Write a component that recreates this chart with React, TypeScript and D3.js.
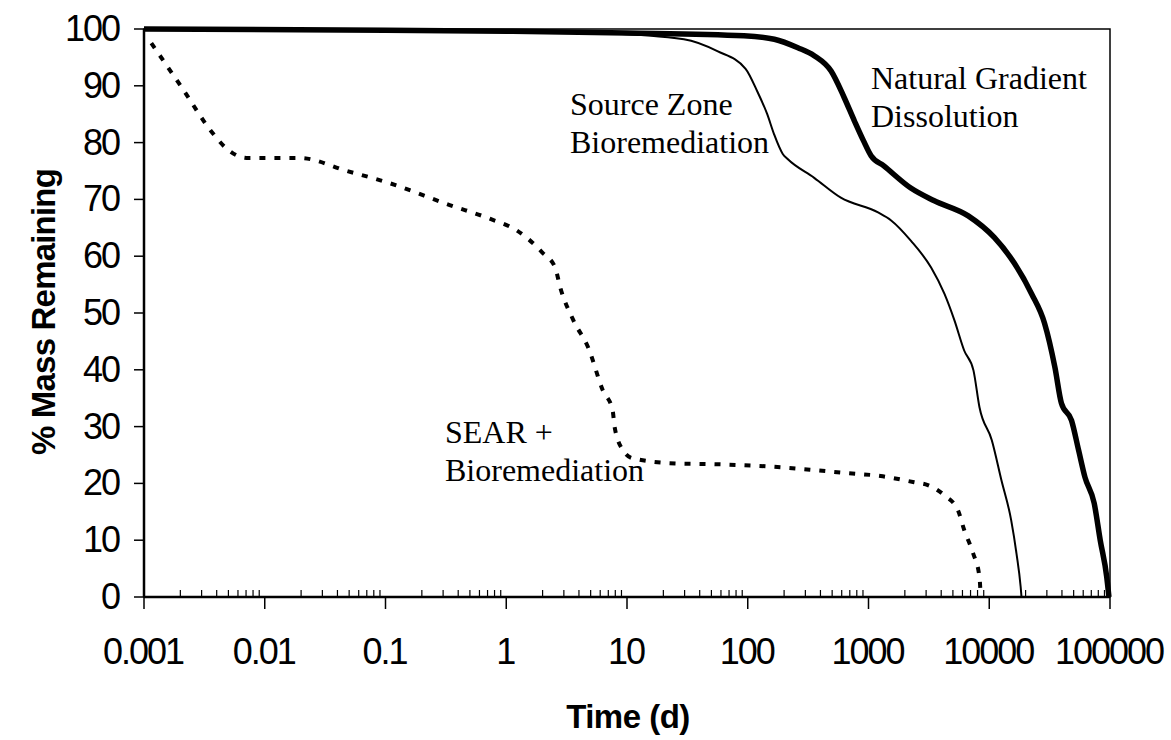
import * as d3 from 'd3';

// Chart data
const searTime = [0.00115, 0.0021, 0.0036, 0.0048, 0.0071, 0.0195, 0.048, 0.103, 0.34, 0.73, 1.23, 2.0, 2.54, 2.8, 3.6, 4.8, 6.3, 7.6, 7.9, 9.3, 11.2, 26, 49, 200, 378, 676, 1260, 2390, 3100, 4250, 5500, 6200, 7350, 8300, 8500];
const searMass = [97.5, 89.4, 82, 79, 77.3, 77.3, 75, 73, 69, 66.6, 64.5, 60.6, 58, 54.5, 48.7, 43.8, 36.4, 32.9, 29.9, 25.8, 24.4, 23.5, 23.4, 22.8, 22.3, 21.8, 21.3, 20.2, 19.7, 17.9, 15.3, 11.8, 7.7, 3.5, 0];

const sourceTime = [0.001, 0.1, 1, 6, 29.6, 56, 96, 120, 145, 165, 195, 214, 355, 590, 1200, 1540, 2250, 3300, 4250, 5150, 6200, 7400, 8300, 10500, 12600, 15200, 16800, 18200, 18500];
const sourceMass = [100, 99.8, 99.6, 99.3, 98.2, 96.1, 93, 89, 85, 81.5, 78, 77.1, 73.8, 70.3, 67.7, 66.3, 62.7, 58, 53.4, 48.7, 43.4, 39.9, 33.4, 27.6, 20.6, 13.5, 7.7, 1.8, 0];

const naturalTime = [0.001, 0.1, 1, 10, 93, 166, 260, 355, 490, 630, 765, 910, 1050, 1340, 2240, 3470, 6700, 11000, 16200, 22400, 28700, 35000, 39600, 48000, 55000, 62000, 74000, 83000, 94000, 98000];
const naturalMass = [100, 99.8, 99.6, 99.3, 98.8, 98.2, 96.7, 95.3, 92.6, 87.9, 83.8, 80.3, 77.7, 75.9, 72, 69.8, 67.1, 63.3, 58.7, 53.4, 48.2, 40.4, 34.1, 31.1, 25.8, 21.1, 16.5, 10, 3.5, 0];

const xTickValues = [0.001, 0.01, 0.1, 1, 10, 100, 1000, 10000, 100000];
const xTickLabels = ['0.001', '0.01', '0.1', '1', '10', '100', '1000', '10000', '100000'];
const yTickValues = [0, 10, 20, 30, 40, 50, 60, 70, 80, 90, 100];

const W = 1171;
const H = 740;
const left = 144;
const right = 1110;
const top = 29;
const bottom = 597;

type Pt = [number, number];
const zip = (t: number[], m: number[]): Pt[] => t.map((v, i) => [v, m[i]]);

export default function App() {
  const x = d3.scaleLog().domain([0.001, 100000]).range([left, right]);
  const y = d3.scaleLinear().domain([0, 100]).range([bottom, top]);
  const line = d3.line<Pt>().x(d => x(d[0])).y(d => y(d[1])).curve(d3.curveMonotoneX);

  // minor ticks 2..9 in each decade
  const minor: number[] = [];
  for (let e = -3; e < 5; e++) {
    for (let k = 2; k <= 9; k++) minor.push(k * Math.pow(10, e));
  }

  const sans = 'Arial, "Liberation Sans", Helvetica, sans-serif';
  const serif = '"Times New Roman", "Liberation Serif", serif';

  return (
    <svg width={W} height={H} style={{ position: 'absolute', left: 0, top: 0, background: '#fff' }}>
      <rect x={0} y={0} width={W} height={H} fill="#fff" />

      {/* plot frame */}
      <rect x={left} y={top} width={right - left} height={bottom - top} fill="none" stroke="#000" strokeWidth={1.5} />
      <line x1={left} x2={left} y1={top} y2={bottom} stroke="#000" strokeWidth={2.5} />
      <line x1={left} x2={right} y1={bottom} y2={bottom} stroke="#000" strokeWidth={2.5} />

      {/* y axis ticks */}
      {yTickValues.map(v => (
        <g key={'y' + v}>
          <line x1={left - 10} x2={left} y1={y(v)} y2={y(v)} stroke="#000" strokeWidth={1.5} />
          <text x={119} y={y(v) + 12} textAnchor="end" fontFamily={sans} fontSize={36} letterSpacing={-2}>
            {v}
          </text>
        </g>
      ))}

      {/* x axis ticks */}
      {minor.map(v => (
        <line key={'m' + v} x1={x(v)} x2={x(v)} y1={bottom - 7} y2={bottom} stroke="#000" strokeWidth={1.2} />
      ))}
      {xTickValues.map((v, i) => (
        <g key={'x' + v}>
          <line x1={x(v)} x2={x(v)} y1={bottom} y2={bottom + 12} stroke="#000" strokeWidth={1.5} />
          <text x={x(v) - 1} y={664} textAnchor="middle" fontFamily={sans} fontSize={36} letterSpacing={-2}>
            {xTickLabels[i]}
          </text>
        </g>
      ))}

      {/* axis titles */}
      <text x={628} y={728} textAnchor="middle" fontFamily={sans} fontSize={33} fontWeight="bold" letterSpacing={-0.5}>
        Time (d)
      </text>
      <text
        transform={`translate(55, 312) rotate(-90)`}
        textAnchor="middle"
        fontFamily={sans}
        fontSize={33}
        fontWeight="bold"
        letterSpacing={-0.8}
      >
        % Mass Remaining
      </text>

      {/* curves */}
      <path d={line(zip(searTime, searMass)) || ''} fill="none" stroke="#000" strokeWidth={4} strokeDasharray="6 9" />
      <path d={line(zip(sourceTime, sourceMass)) || ''} fill="none" stroke="#000" strokeWidth={2} />
      <path d={line(zip(naturalTime, naturalMass)) || ''} fill="none" stroke="#000" strokeWidth={5.5} />

      {/* annotations */}
      <g fontFamily={serif} fontSize={32} fill="#000">
        <text x={871} y={89}>Natural Gradient</text>
        <text x={871} y={127}>Dissolution</text>
        <text x={570} y={115}>Source Zone</text>
        <text x={570} y={153}>Bioremediation</text>
        <text x={445} y={443}>SEAR +</text>
        <text x={445} y={481}>Bioremediation</text>
      </g>
    </svg>
  );
}
